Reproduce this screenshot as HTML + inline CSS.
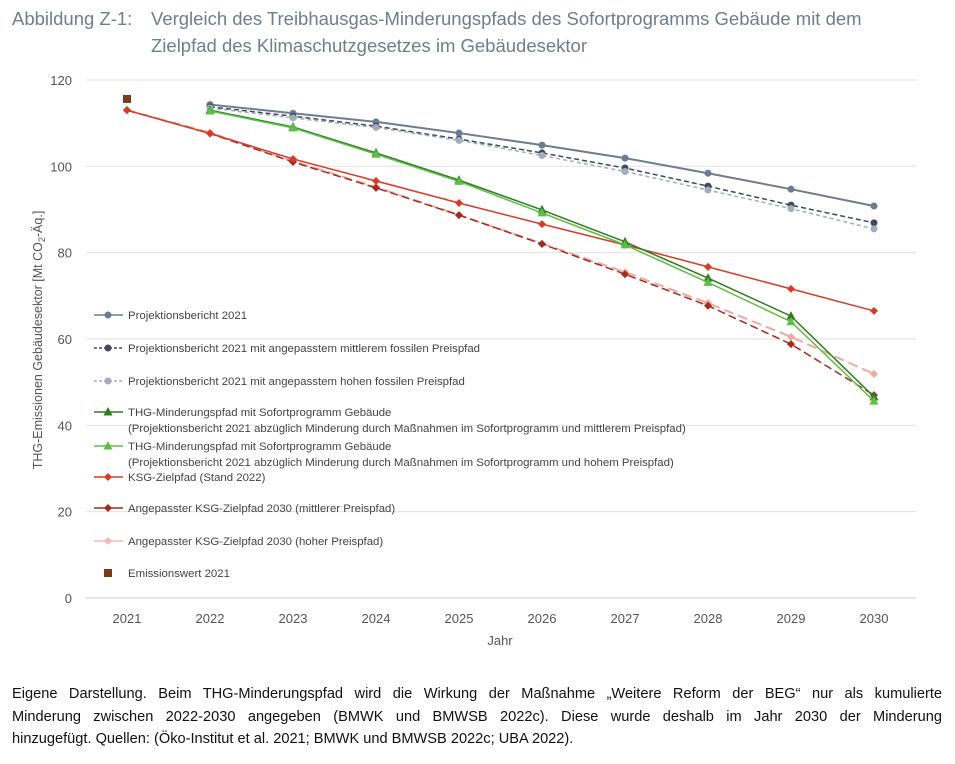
<!DOCTYPE html>
<html><head><meta charset="utf-8"><style>
body{margin:0;width:955px;height:764px;background:#fff;font-family:"Liberation Sans",sans-serif;overflow:hidden;position:relative}
#title{position:absolute;left:12px;top:5px;font-size:18.5px;color:#6f7d8c;line-height:27px}
#title span{display:inline-block;width:139px}
#note{position:absolute;left:12px;top:683px;width:930px;font-size:14.6px;line-height:22.5px;color:#111}
#note div{white-space:nowrap;text-align:justify;text-align-last:justify}
#note div.last{text-align-last:left}
svg{position:absolute;left:0;top:0}
</style></head><body>
<div id="title"><span>Abbildung Z-1:</span>Vergleich des Treibhausgas-Minderungspfads des Sofortprogramms Gebäude mit dem<br><span></span>Zielpfad des Klimaschutzgesetzes im Gebäudesektor</div>
<svg id="chart" width="955" height="680"></svg>
<div id="note"><div>Eigene Darstellung. Beim THG-Minderungspfad wird die Wirkung der Maßnahme „Weitere Reform der BEG“ nur als kumulierte</div><div>Minderung zwischen 2022-2030 angegeben (BMWK und BMWSB 2022c). Diese wurde deshalb im Jahr 2030 der Minderung</div><div class="last">hinzugefügt. Quellen: (Öko-Institut et al. 2021; BMWK und BMWSB 2022c; UBA 2022).</div></div>
<script>
const years=[2021,2022,2023,2024,2025,2026,2027,2028,2029,2030];
const yTicks=[0,20,40,60,80,100,120];
const projektion=[null,114.3,112.3,110.3,107.7,104.9,101.9,98.4,94.7,90.8];
const projMittel=[null,113.8,111.6,109.3,106.3,103.1,99.6,95.4,91.0,86.9];
const projHoch=[null,113.5,111.2,109.0,106.0,102.5,98.8,94.5,90.2,85.5];
const thgMittel=[null,113.0,109.1,103.1,96.8,89.9,82.5,74.1,65.3,46.6];
const thgHoch=[null,112.8,108.9,102.8,96.5,89.2,81.8,73.1,64.0,45.6];
const ksg=[113.0,107.6,101.7,96.6,91.5,86.6,81.8,76.7,71.6,66.5];
const ksgMittel=[113.0,107.6,101.0,95.0,88.7,82.0,75.0,67.7,58.8,47.0];
const ksgHoch=[113.0,107.8,101.2,95.2,88.7,82.1,75.5,68.3,60.5,51.9];
const emission2021=[115.6];

const NS="http://www.w3.org/2000/svg";
const svg=document.getElementById('chart');
const X=y=>127+(y-2021)*83;
const Y=v=>598-v*4.317;
function el(t,a,p){const e=document.createElementNS(NS,t);for(const k in a)e.setAttribute(k,a[k]);(p||svg).appendChild(e);return e;}
yTicks.forEach(t=>{
 const g=el('line',{x1:86,x2:916,y1:Y(t),y2:Y(t),stroke:t===0?'#ccc':'#e2e2e2','stroke-width':1});
 
 
 const tx=el('text',{x:72,y:Y(t)+5,'text-anchor':'end','font-size':13,fill:'#555'});tx.textContent=t;
 
 
});
years.forEach(yr=>{
 const tx=el('text',{x:X(yr),y:623,'text-anchor':'middle','font-size':13,fill:'#555'});tx.textContent=yr;
 
 
});
let xt=el('text',{x:500,y:645,'text-anchor':'middle','font-size':13,fill:'#555'});xt.textContent='Jahr';


let yt=el('text',{transform:'translate(42,340) rotate(-90)','text-anchor':'middle','font-size':12.5,fill:'#555'});
yt.innerHTML='THG-Emissionen Gebäudesektor [Mt CO<tspan font-size="9" dy="3">2</tspan><tspan dy="-3">-Äq.]</tspan>';



function marker(g,type,x,y,c){
 if(type==='c')el('circle',{cx:x,cy:y,r:3.5,fill:c},g);
 else if(type==='t')el('path',{d:`M${x} ${y-5}L${x+4.5} ${y+3.5}L${x-4.5} ${y+3.5}Z`,fill:c},g);
 else if(type==='d')el('path',{d:`M${x} ${y-4}L${x+4} ${y}L${x} ${y+4}L${x-4} ${y}Z`,fill:c},g);
 else if(type==='s')el('rect',{x:x-4,y:y-4,width:8,height:8,fill:c},g);
}
const series=[
 {name:'projektionsbericht',data:projektion,c:'#6c7d93',dash:'',m:'c',w:2},
 {name:'projektion-mittel',data:projMittel,c:'#3f4a5c',dash:'5,3',m:'c',w:1.5},
 {name:'projektion-hoch',data:projHoch,c:'#a3aebd',dash:'4,3',m:'c',w:1.5},
 {name:'ksg-hoch',data:ksgHoch,c:'#f0a8a0',dash:'10,5',m:'d',w:2},
 {name:'ksg-mittel',data:ksgMittel,c:'#a52a1e',dash:'8,4',m:'d',w:1.5},
 {name:'ksg-zielpfad',data:ksg,c:'#d93a26',dash:'',m:'d',w:1.5},
 {name:'thg-mittel',data:thgMittel,c:'#2e7d1e',dash:'',m:'t',w:1.5},
 {name:'thg-hoch',data:thgHoch,c:'#5cbf45',dash:'',m:'t',w:1.5},
];
series.forEach(s=>{
 const g=el('g',{});
 
 
 const pts=[];s.data.forEach((v,i)=>{if(v!=null)pts.push([X(years[i]),Y(v)]);});
 el('polyline',{points:pts.map(p=>p.join(',')).join(' '),fill:'none',stroke:s.c,'stroke-width':s.w,'stroke-dasharray':s.dash},g);
 pts.forEach(p=>marker(g,s.m,p[0],p[1],s.c));
});
const eg=el('g',{});


marker(eg,'s',X(2021),Y(emission2021[0]),'#7b3a18');

const legend=[
 ['Projektionsbericht 2021',null,315,'#6c7d93','','c'],
 ['Projektionsbericht 2021 mit angepasstem mittlerem fossilen Preispfad',null,348,'#3f4a5c','3,2','c'],
 ['Projektionsbericht 2021 mit angepasstem hohen fossilen Preispfad',null,381,'#a3aebd','3,2','c'],
 ['THG-Minderungspfad mit Sofortprogramm Gebäude','(Projektionsbericht 2021 abzüglich Minderung durch Maßnahmen im Sofortprogramm und mittlerem Preispfad)',412,'#2e7d1e','','t'],
 ['THG-Minderungspfad mit Sofortprogramm Gebäude','(Projektionsbericht 2021 abzüglich Minderung durch Maßnahmen im Sofortprogramm und hohem Preispfad)',446,'#5cbf45','','t'],
 ['KSG-Zielpfad (Stand 2022)',null,477,'#d93a26','','d'],
 ['Angepasster KSG-Zielpfad 2030 (mittlerer Preispfad)',null,508,'#a52a1e','','d'],
 ['Angepasster KSG-Zielpfad 2030 (hoher Preispfad)',null,541,'#f5b8b0','','d'],
 ['Emissionswert 2021',null,573,'#7b3a18','','s'],
];
legend.forEach((l,i)=>{
 const g=el('g',{});
 
 
 if(l[5]!=='s')el('line',{x1:94,x2:123,y1:l[2],y2:l[2],stroke:l[3],'stroke-width':1.5,'stroke-dasharray':l[4]},g);
 marker(g,l[5],108,l[2],l[3]);
 const t=el('text',{x:128,y:l[2]+4,'font-size':11.4,fill:'#444'},g);t.textContent=l[0];
 if(l[1]){const t2=el('text',{x:128,y:l[2]+20,'font-size':11.4,fill:'#444'},g);t2.textContent=l[1];}
});
</script>
</body></html>
